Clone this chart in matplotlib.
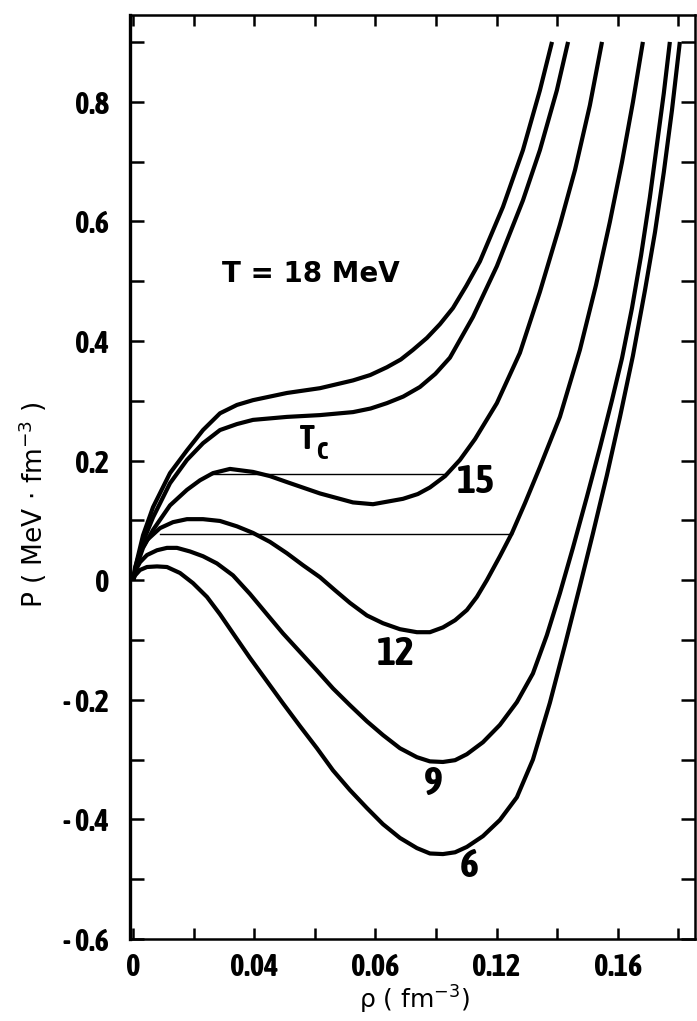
import matplotlib
matplotlib.use("Agg")
import matplotlib.pyplot as plt
from matplotlib import font_manager as fm
from matplotlib.ticker import MultipleLocator

# ---------------- data (rho in fm^-3, P in MeV fm^-3) ----------------
rho_18 = [0.0000, 0.0013, 0.0033, 0.0066, 0.0122, 0.0178, 0.0231, 0.0287, 0.0343, 0.0396,
          0.0508, 0.0617, 0.0726, 0.0783, 0.0838, 0.0884, 0.0924, 0.0970, 0.1013, 0.1056,
          0.1100, 0.1145, 0.1221, 0.1287, 0.1343, 0.1383]
P_18 = [0.000, 0.033, 0.075, 0.122, 0.179, 0.217, 0.251, 0.279, 0.293, 0.301,
        0.313, 0.321, 0.334, 0.343, 0.356, 0.369, 0.385, 0.405, 0.428, 0.455,
        0.492, 0.533, 0.624, 0.719, 0.819, 0.900]

rho_tc = [0.0000, 0.0013, 0.0033, 0.0066, 0.0122, 0.0178, 0.0231, 0.0287, 0.0343, 0.0396,
          0.0508, 0.0617, 0.0726, 0.0784, 0.0838, 0.0892, 0.0947, 0.0998, 0.1046, 0.1122,
          0.1201, 0.1287, 0.1343, 0.1399, 0.1436]
P_tc = [0.000, 0.028, 0.064, 0.105, 0.162, 0.201, 0.229, 0.251, 0.261, 0.268,
        0.273, 0.276, 0.281, 0.287, 0.296, 0.307, 0.323, 0.345, 0.372, 0.440,
        0.525, 0.635, 0.719, 0.819, 0.900]

rho_15 = [0.0000, 0.0013, 0.0033, 0.0066, 0.0122, 0.0178, 0.0221, 0.0264, 0.0320, 0.0396,
          0.0452, 0.0508, 0.0617, 0.0726, 0.0792, 0.0891, 0.0940, 0.0980, 0.1030, 0.1079,
          0.1129, 0.1201, 0.1277, 0.1343, 0.1409, 0.1459, 0.1508, 0.1548]
P_15 = [0.000, 0.025, 0.054, 0.084, 0.125, 0.151, 0.167, 0.179, 0.186, 0.181,
        0.174, 0.164, 0.145, 0.130, 0.127, 0.136, 0.144, 0.155, 0.174, 0.201,
        0.236, 0.296, 0.380, 0.482, 0.594, 0.686, 0.794, 0.900]

rho_12 = [0.0000, 0.0007, 0.0023, 0.0046, 0.0089, 0.0132, 0.0178, 0.0231, 0.0287, 0.0343,
          0.0396, 0.0452, 0.0508, 0.0561, 0.0617, 0.0667, 0.0716, 0.0772, 0.0825, 0.0881,
          0.0937, 0.0980, 0.1023, 0.1063, 0.1102, 0.1135, 0.1168, 0.1211, 0.1251, 0.1294,
          0.1343, 0.1409, 0.1475, 0.1528, 0.1574, 0.1614, 0.1650, 0.1683]
P_12 = [0.000, 0.022, 0.047, 0.067, 0.087, 0.097, 0.102, 0.102, 0.099, 0.090,
        0.079, 0.064, 0.045, 0.025, 0.005, -0.017, -0.038, -0.059, -0.072, -0.082,
        -0.087, -0.087, -0.079, -0.067, -0.050, -0.028, 0.000, 0.040, 0.079, 0.129,
        0.189, 0.273, 0.385, 0.493, 0.599, 0.699, 0.799, 0.900]

rho_9 = [0.0000, 0.0007, 0.0023, 0.0046, 0.0079, 0.0112, 0.0145, 0.0188, 0.0231, 0.0277,
         0.0330, 0.0386, 0.0442, 0.0495, 0.0551, 0.0607, 0.0660, 0.0716, 0.0772, 0.0825,
         0.0881, 0.0937, 0.0980, 0.1023, 0.1063, 0.1102, 0.1155, 0.1211, 0.1267, 0.1320,
         0.1366, 0.1409, 0.1452, 0.1498, 0.1541, 0.1581, 0.1614, 0.1647, 0.1677, 0.1706,
         0.1729, 0.1752, 0.1772]
P_9 = [0.000, 0.015, 0.030, 0.042, 0.050, 0.054, 0.054, 0.048, 0.040, 0.028,
       0.008, -0.023, -0.057, -0.089, -0.120, -0.151, -0.181, -0.209, -0.236, -0.259,
       -0.281, -0.296, -0.303, -0.304, -0.301, -0.291, -0.271, -0.242, -0.204, -0.156,
       -0.092, -0.022, 0.054, 0.139, 0.221, 0.301, 0.371, 0.455, 0.543, 0.640,
       0.727, 0.814, 0.900]

rho_6 = [0.0000, 0.0007, 0.0023, 0.0046, 0.0079, 0.0112, 0.0155, 0.0198, 0.0244, 0.0287,
         0.0337, 0.0386, 0.0442, 0.0495, 0.0551, 0.0607, 0.0660, 0.0716, 0.0772, 0.0825,
         0.0881, 0.0937, 0.0980, 0.1023, 0.1063, 0.1102, 0.1155, 0.1211, 0.1267, 0.1320,
         0.1376, 0.1426, 0.1475, 0.1518, 0.1564, 0.1607, 0.1650, 0.1690, 0.1723, 0.1752,
         0.1779, 0.1805]
P_6 = [0.000, 0.008, 0.017, 0.022, 0.023, 0.022, 0.012, -0.005, -0.028, -0.057,
       -0.094, -0.130, -0.169, -0.206, -0.244, -0.281, -0.318, -0.351, -0.381, -0.408,
       -0.431, -0.448, -0.457, -0.458, -0.455, -0.446, -0.428, -0.401, -0.363, -0.300,
       -0.205, -0.108, -0.010, 0.078, 0.175, 0.272, 0.375, 0.485, 0.582, 0.682,
       0.786, 0.900]

# Maxwell tie lines (rho_start, rho_end, P)
tie_15 = (0.0254, 0.1035, 0.177)
tie_12 = (0.0089, 0.1251, 0.077)

xtick_vals = [0.0, 0.04, 0.08, 0.12, 0.16]
xtick_labels = ["0", "0.04", "0.06", "0.12", "0.16"]
ytick_vals = [-0.6, -0.4, -0.2, 0.0, 0.2, 0.4, 0.6, 0.8]
ytick_labels = ["- 0.6", "- 0.4", "- 0.2", "0", "0.2", "0.4", "0.6", "0.8"]

curve_labels = [("15", 0.1070, 0.164), ("12", 0.0805, -0.124), ("9", 0.0960, -0.340), ("6", 0.1080, -0.478)]


# ---------------- pick a narrow font (preferably with a bold face) ----------------
def _is_bold(w):
    if isinstance(w, str):
        return w.lower() in ("bold", "heavy", "black", "extra bold", "ultrabold", "demibold", "semibold")
    return w >= 600


narrow_faces = [f for f in fm.fontManager.ttflist if ("Narrow" in f.name or "Condensed" in f.name)]
bold_narrow = sorted({f.name for f in narrow_faces if _is_bold(f.weight)})
any_narrow = sorted({f.name for f in narrow_faces})
if bold_narrow:
    narrow_name = bold_narrow[0]
elif any_narrow:
    narrow_name = any_narrow[0]
else:
    narrow_name = "DejaVu Sans"
narrow = [narrow_name, "DejaVu Sans"]

# ---------------- figure ----------------
W, H = 697, 1021
fig = plt.figure(figsize=(W / 100, H / 100), dpi=100)
ax = fig.add_axes([130 / W, 1 - 939 / H, (695 - 130) / W, (939 - 15) / H])
ax.set_xlim(-0.001, 0.1855)
ax.set_ylim(-0.6, 0.945)

lw = 3.0
for r, p in [(rho_18, P_18), (rho_tc, P_tc), (rho_15, P_15), (rho_12, P_12), (rho_9, P_9), (rho_6, P_6)]:
    ax.plot(r, p, color="black", lw=lw, solid_capstyle="butt", solid_joinstyle="round")

for a, b, p in [tie_15, tie_12]:
    ax.plot([a, b], [p, p], color="black", lw=1.0)

tick_fs = 22
ax.set_xticks(xtick_vals)
ax.set_xticklabels(xtick_labels, family=narrow, weight="bold", fontsize=tick_fs)
ax.xaxis.set_minor_locator(MultipleLocator(0.02))
ax.set_yticks(ytick_vals)
ax.set_yticklabels(ytick_labels, family=narrow, weight="bold", fontsize=tick_fs)
ax.yaxis.set_minor_locator(MultipleLocator(0.1))
ax.tick_params(which="both", direction="in", top=True, right=True, width=1.8, color="black")
ax.tick_params(axis="y", which="both", length=10, pad=15)
ax.tick_params(axis="x", which="both", length=8, pad=9)

for s in ax.spines.values():
    s.set_linewidth(1.8)
ax.spines["left"].set_linewidth(2.4)

ax.text(0.0294, 0.512, "T = 18 MeV", family="DejaVu Sans", weight="bold", fontsize=20, ha="left", va="center")
ax.text(0.0551, 0.236, "T", family=narrow, weight="bold", fontsize=24, ha="left", va="center")
ax.text(0.0604, 0.214, "C", family=narrow, weight="bold", fontsize=18, ha="left", va="center")
for t, x, y in curve_labels:
    ax.text(x, y, t, family=narrow, weight="bold", fontsize=29, ha="left", va="center")

fig.text(33 / W, 1 - 505 / H, "P ( MeV $\\cdot$ fm$^{-3}$ )", rotation=90, ha="center", va="center", fontsize=19)
fig.text(415 / W, 1 - 1000 / H, "ρ ( fm$^{-3}$)", ha="center", va="center", fontsize=18)

fig.savefig("out.png", dpi=100)
